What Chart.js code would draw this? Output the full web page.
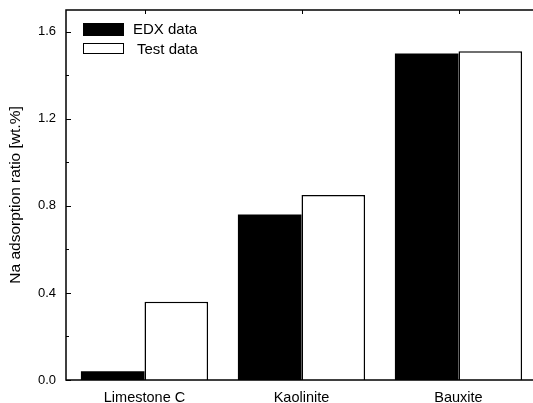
<!DOCTYPE html>
<html lang="en">
  <head>
    <meta charset="UTF-8" />
    <title>Na adsorption ratio</title>
    <style>
      html, body { margin: 0; padding: 0; background: #fff; overflow: hidden; }
      canvas { display: block; }
    </style>
  </head>
  <body>
    <canvas id="bar" width="560" height="403"></canvas>

    <script src="https://cdn.jsdelivr.net/npm/chart.js@4.4.0/dist/chart.umd.min.js"></script>
    <script>
      const categories = ["Limestone C", "Kaolinite", "Bauxite"];
      const edxData = [0.04, 0.76, 1.5];
      const testData = [0.36, 0.85, 1.51];
      const yTicks = [0, 0.4, 0.8, 1.2, 1.6];
      const yMinorTicks = [0.2, 0.6, 1.0, 1.4];

      // frame, inward ticks and legend box
      const framePlugin = {
        id: "frame",
        afterDraw(chart) {
          const ctx = chart.ctx;
          const a = chart.chartArea;
          const y = chart.scales.y;
          const x = chart.scales.x;
          ctx.save();
          ctx.strokeStyle = "#000";
          ctx.lineWidth = 1.5;
          ctx.strokeRect(a.left, a.top, a.right - a.left, a.bottom - a.top);
          ctx.lineWidth = 1;
          yTicks.forEach((v) => {
            const py = Math.round(y.getPixelForValue(v)) + 0.5;
            ctx.beginPath();
            ctx.moveTo(a.left, py);
            ctx.lineTo(a.left + 5, py);
            ctx.stroke();
          });
          yMinorTicks.forEach((v) => {
            const py = Math.round(y.getPixelForValue(v)) + 0.5;
            ctx.beginPath();
            ctx.moveTo(a.left, py);
            ctx.lineTo(a.left + 3, py);
            ctx.stroke();
          });
          categories.forEach((c, i) => {
            const px = Math.round(x.getPixelForValue(i)) + 0.5;
            ctx.beginPath();
            ctx.moveTo(px, a.bottom);
            ctx.lineTo(px, a.bottom - 4);
            ctx.moveTo(px, a.top);
            ctx.lineTo(px, a.top + 4);
            ctx.stroke();
          });

          // legend
          const ds = chart.data.datasets;
          ctx.font = "15px 'Liberation Sans', Arial, sans-serif";
          ctx.textBaseline = "middle";
          ctx.textAlign = "left";
          ds.forEach((d, i) => {
            const top = 23 + i * 20;
            ctx.fillStyle = d.backgroundColor;
            ctx.fillRect(83, top, 41, i === 0 ? 13 : 11);
            if (i === 1) {
              ctx.strokeStyle = "#000";
              ctx.strokeRect(83.5, top + 0.5, 40, 10);
            }
            ctx.fillStyle = "#000";
            ctx.fillText(d.label, i === 0 ? 133 : 137, top + 7);
          });
          ctx.restore();
        },
      };

      new Chart(document.getElementById("bar"), {
        type: "bar",
        data: {
          labels: categories,
          datasets: [
            {
              label: "EDX data",
              data: edxData,
              backgroundColor: "#000",
              borderColor: "#000",
              borderWidth: 0,
            },
            {
              label: "Test data",
              data: testData,
              backgroundColor: "#fff",
              borderColor: "#000",
              borderWidth: 1.5,
              borderSkipped: "bottom",
            },
          ],
        },
        options: {
          responsive: false,
          animation: false,
          layout: { padding: { top: 10, right: 23, left: 0, bottom: 0 } },
          datasets: {
            bar: { categoryPercentage: 0.81, barPercentage: 1.0 },
          },
          plugins: {
            legend: { display: false },
            tooltip: { enabled: false },
          },
          scales: {
            x: {
              grid: { display: false, drawTicks: false },
              border: { display: false },
              ticks: {
                color: "#000",
                padding: 9,
                font: { family: "'Liberation Sans', Arial, sans-serif", size: 14.5 },
              },
              afterFit(scale) {
                scale.height = 23;
                scale.paddingLeft = 0;
                scale.paddingRight = 0;
              },
            },
            y: {
              min: 0,
              max: 1.7,
              grid: { display: false, drawTicks: false },
              border: { display: false },
              afterBuildTicks(scale) {
                scale.ticks = yTicks.map((v) => ({ value: v }));
              },
              ticks: {
                color: "#000",
                padding: 10,
                font: { family: "'Liberation Sans', Arial, sans-serif", size: 13 },
                callback: (v) => Number(v).toFixed(1),
              },
              title: {
                display: true,
                text: "Na adsorption ratio [wt.%]",
                color: "#000",
                padding: { top: 6, bottom: 0 },
                font: { family: "'Liberation Sans', Arial, sans-serif", size: 15.5 },
              },
              afterFit(scale) {
                scale.width = 66;
                scale.paddingTop = 0;
                scale.paddingBottom = 0;
              },
            },
          },
        },
        plugins: [framePlugin],
      });
    </script>
  </body>
</html>
